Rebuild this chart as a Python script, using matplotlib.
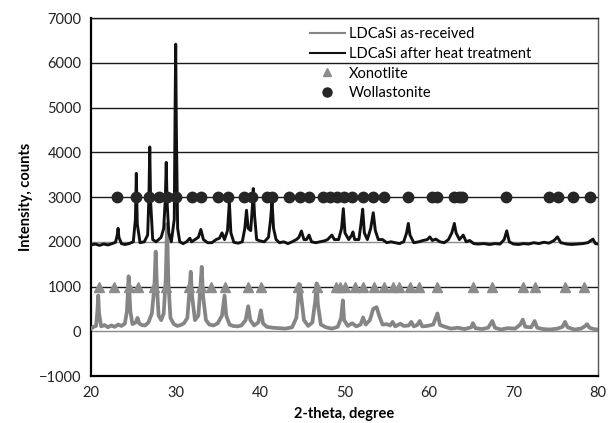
import matplotlib
matplotlib.use("Agg")
import matplotlib.pyplot as plt
from matplotlib.lines import Line2D

# ---- data ----
asrec_x = [20.0, 20.3, 20.6, 20.75, 20.85, 20.95, 21.2, 21.6, 22.0, 22.4, 22.8, 23.2, 23.6, 24.0, 24.25, 24.45, 24.65, 24.9,
           25.3, 25.5, 25.7, 26.0, 26.4, 26.8, 27.2, 27.5, 27.65, 27.8, 28.0, 28.3, 28.6, 28.85, 29.0, 29.15, 29.4, 29.8,
           30.2, 30.6, 31.0, 31.4, 31.65, 31.8, 31.95, 32.3, 32.7, 32.95, 33.1, 33.25, 33.6, 34.0, 34.5, 35.0, 35.5, 35.8,
           36.0, 36.4, 36.8, 37.3, 37.8, 38.3, 38.6, 38.85, 39.3, 39.8, 40.1, 40.35, 40.8, 41.5, 42.2, 43.0, 43.8, 44.3,
           44.55, 44.7, 44.85, 45.2, 45.7, 46.2, 46.55, 46.7, 46.85, 47.2, 47.8, 48.5, 49.2, 49.6, 49.8, 49.95, 50.4, 50.9,
           51.4, 51.9, 52.2, 52.5, 53.0, 53.4, 53.8, 54.1, 54.5, 55.0, 55.4, 55.7, 56.0, 56.6, 57.0, 57.6, 57.9, 58.2,
           58.6, 58.9, 59.2, 59.8, 60.5, 61.0, 61.3, 61.9, 62.6, 63.4, 64.2, 65.0, 65.2, 65.5, 66.3, 67.0, 67.5, 67.8,
           68.5, 69.3, 70.2, 70.8, 71.1, 71.4, 72.1, 72.5, 72.8, 73.5, 74.3, 75.2, 75.8, 76.1, 76.4, 77.2, 78.0, 78.5,
           78.7, 79.0, 79.5, 80.0]
asrec_y = [60, 100, 120, 450, 800, 400, 110, 140, 90, 130, 100, 150, 120, 170, 450, 1230, 450, 160,
           200, 300, 180, 140, 130, 200, 400, 1000, 1780, 1000, 350, 250, 400, 1200, 2400, 1100, 300, 160,
           120, 140, 180, 300, 900, 1330, 800, 250, 350, 1000, 1440, 800, 250, 150, 130, 180, 350, 800,
           350, 150, 120, 110, 130, 250, 560, 250, 130, 200, 470, 180, 100, 80, 70, 60, 90, 300,
           800, 1050, 800, 250, 120, 200, 700, 1070, 600, 150, 90, 60, 100, 300, 690, 250, 120, 180,
           110, 150, 310, 150, 250, 500, 540, 350, 150, 160, 130, 210, 110, 170, 120, 130, 210, 110,
           140, 230, 110, 120, 150, 400, 140, 100, 60, 80, 50, 90, 180, 70, 50, 80, 230, 80,
           40, 70, 60, 150, 260, 100, 90, 230, 80, 50, 40, 60, 100, 210, 90, 40, 60, 120,
           160, 80, 50, 40]

heat_x = [20.0, 20.5, 21.0, 21.5, 22.0, 22.5, 22.9, 23.1, 23.2, 23.3, 23.6, 24.0, 24.5, 25.0, 25.25, 25.36, 25.47, 25.8,
          26.3, 26.7, 26.85, 26.95, 27.05, 27.3, 27.7, 28.0, 28.3, 28.6, 28.8, 28.9, 29.0, 29.2, 29.5, 29.85, 29.95, 30.02,
          30.1, 30.25, 30.5, 30.9, 31.3, 31.7, 31.9, 32.3, 32.7, 33.0, 33.3, 33.8, 34.3, 34.8, 35.2, 35.5, 35.8, 36.15,
          36.37, 36.55, 36.9, 37.4, 37.9, 38.2, 38.4, 38.6, 38.9, 39.1, 39.2, 39.35, 39.6, 40.0, 40.5, 41.0, 41.25, 41.42,
          41.6, 41.9, 42.3, 42.8, 43.3, 43.8, 44.3, 44.6, 44.9, 45.2, 45.5, 45.8, 46.1, 46.6, 47.1, 47.6, 48.0, 48.5,
          48.8, 49.3, 49.65, 49.86, 50.05, 50.5, 50.85, 51.0, 51.2, 51.7, 51.95, 52.15, 52.35, 52.7, 53.1, 53.4, 53.65, 54.0,
          54.5, 55.0, 55.5, 56.0, 56.5, 57.0, 57.35, 57.55, 57.75, 58.2, 58.8, 59.3, 59.8, 60.1, 60.4, 60.8, 61.3, 61.8,
          62.3, 62.7, 63.0, 63.2, 63.6, 64.05, 64.4, 64.8, 65.3, 65.8, 66.5, 67.2, 67.8, 68.4, 68.9, 69.2, 69.5, 70.0,
          70.6, 71.2, 71.8, 72.4, 73.0, 73.6, 74.2, 74.8, 75.2, 75.6, 76.3, 76.9, 77.6, 78.2, 78.8, 79.4, 79.7, 80.0]
heat_y = [1930, 1950, 1920, 1950, 1930, 1960, 1990, 2150, 2300, 2100, 1960, 1940, 1960, 2000, 2500, 3530, 2400, 1980,
          2000, 2150, 3000, 4120, 2900, 2050, 2000, 2050, 2100, 2300, 3000, 3775, 2900, 2200, 2000, 2500, 5000, 6415,
          4500, 2300, 2000, 1960, 2000, 2080, 2000, 2050, 2100, 2275, 2050, 1980, 1980, 2050, 2080, 2200, 2050, 2250,
          2890, 2200, 1990, 1970, 2000, 2300, 2705, 2300, 2250, 2800, 3190, 2600, 2050, 2020, 2000, 2100, 2500, 2895,
          2300, 2050, 1980, 2000, 1960, 2000, 2050, 2100, 2240, 2050, 2050, 2150, 2000, 1980, 2000, 2020, 2050, 2150,
          2050, 2050, 2300, 2740, 2200, 2050, 2150, 2220, 2050, 2050, 2400, 2730, 2200, 2050, 2300, 2650, 2250, 2050,
          2050, 1980, 2000, 1980, 1960, 2000, 2200, 2410, 2150, 1980, 2000, 2030, 2050, 2110, 2030, 2060, 2000, 1980,
          2050, 2200, 2410, 2200, 2050, 2150, 2000, 2030, 1960, 1950, 1960, 1940, 1960, 1950, 2050, 2245, 2000, 1950,
          1940, 1960, 1950, 1980, 1960, 1990, 1970, 2030, 2110, 1980, 1950, 1940, 1950, 1960, 1980, 2060, 1960, 1950]

xonotlite_x = [20.95, 22.7, 24.5, 25.5, 27.4, 28.9, 31.6, 33.0, 34.2, 35.8, 38.6, 40.1, 44.5, 46.7, 49.0, 49.5, 50.0,
               51.2, 52.2, 53.5, 54.7, 55.7, 56.5, 57.8, 58.8, 61.0, 65.2, 67.5, 71.1, 72.5, 76.1, 78.4]
xonotlite_level = 1000
wollastonite_x = [23.1, 25.3, 26.9, 28.1, 29.0, 30.0, 31.9, 33.0, 35.0, 36.2, 38.1, 39.1, 40.8, 41.4, 43.4, 44.7,
                  45.8, 47.5, 48.3, 49.1, 49.9, 50.9, 52.2, 53.4, 54.7, 57.5, 60.3, 60.9, 62.9, 63.5, 63.9, 69.1,
                  74.2, 75.3, 77.1, 79.0]
wollastonite_level = 3000

x_ticks = [20, 30, 40, 50, 60, 70, 80]
y_ticks = [-1000, 0, 1000, 2000, 3000, 4000, 5000, 6000, 7000]
labels = ["LDCaSi as-received", "LDCaSi after heat treatment", "Xonotlite", "Wollastonite"]

# ---- figure ----
plt.rcParams['font.family'] = ['Lato', 'DejaVu Sans']
fig = plt.figure(figsize=(6.11, 4.23), dpi=100)
ax = fig.add_axes([0.149, 0.111, 0.8297, 0.8463])

ax.set_xlim(20, 80)
ax.set_ylim(-1000, 7000)
ax.set_xticks(x_ticks)
ax.set_yticks(y_ticks)
ax.tick_params(length=0, labelsize=10.5, colors='#222222', pad=7)

for yv in y_ticks[1:]:
    col = '#8a8a8a' if yv in (0, 2000) else '#1a1a1a'
    ax.axhline(yv, color=col, lw=1.0, zorder=1)

ax.plot(asrec_x, asrec_y, color='#858585', lw=2.7, zorder=3, solid_joinstyle='round')
ax.plot(heat_x, heat_y, color='#111111', lw=2.1, zorder=4, solid_joinstyle='round')
ax.plot(xonotlite_x, [xonotlite_level] * len(xonotlite_x), ls='none', marker='^',
        ms=7, color='#8c8c8c', zorder=5)
ax.plot(wollastonite_x, [wollastonite_level] * len(wollastonite_x), ls='none', marker='o',
        ms=7.5, color='#262626', zorder=5)

for s in ['left', 'bottom']:
    ax.spines[s].set_color('#000000')
    ax.spines[s].set_linewidth(1.6)
ax.spines['top'].set_color('#1a1a1a')
ax.spines['top'].set_linewidth(1.0)
ax.spines['right'].set_color('#555555')
ax.spines['right'].set_linewidth(1.0)

ax.set_xlabel("2-theta, degree", fontsize=10.5, fontweight='bold', labelpad=5)
ax.set_ylabel("Intensity, counts", fontsize=10.5, fontweight='bold', labelpad=4)

handles = [Line2D([], [], color='#858585', lw=1.5),
           Line2D([], [], color='#111111', lw=1.5),
           Line2D([], [], ls='none', marker='^', ms=6, color='#8c8c8c'),
           Line2D([], [], ls='none', marker='o', ms=6.5, color='#262626')]
leg = ax.legend(handles, labels, loc='upper left', bbox_to_anchor=(0.42, 0.99),
                frameon=False, fontsize=10.5, handlelength=2.4, handletextpad=0.3,
                labelspacing=0.38, borderaxespad=0)

fig.savefig("out.png", dpi=100)
